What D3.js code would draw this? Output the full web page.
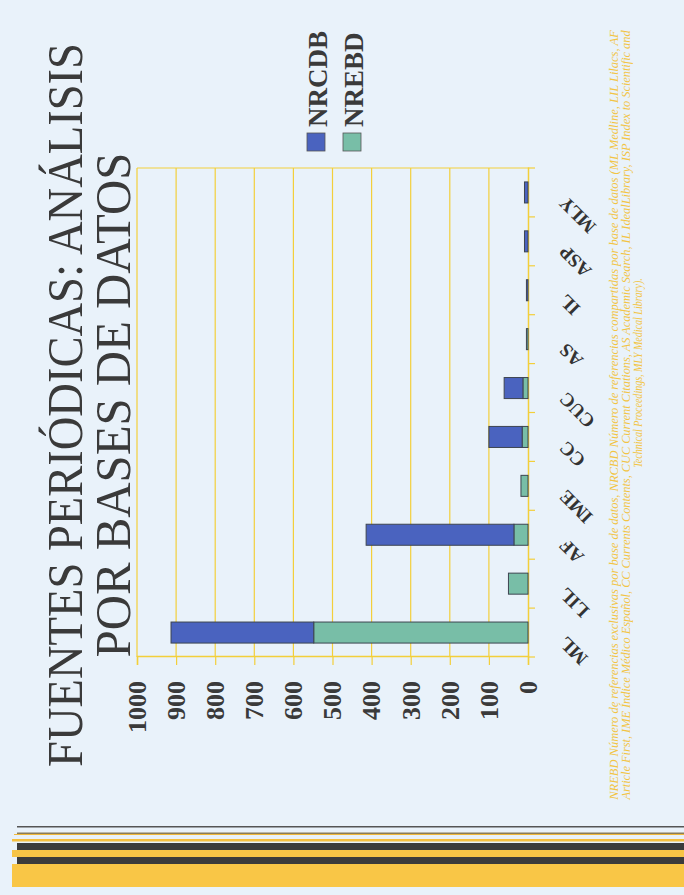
<!DOCTYPE html>
<html><head><meta charset="utf-8">
<script src="https://cdn.jsdelivr.net/npm/d3@7"></script>
<style>html,body{margin:0;padding:0;background:#e9f2fa;}svg{display:block;}</style>
</head><body>
<script>
const categories = ["ML","LIL","AF","IME","CC","CUC","AS","IL","ASP","MLY"];
const NREBD = [548, 50, 36, 18, 15, 13, 4, 0, 0, 0];
const NRCDB = [365, 0, 378, 0, 85, 48, 0, 4, 9, 9];
const seriesNames = ["NRCDB","NREBD"];
const valueTicks = [0,100,200,300,400,500,600,700,800,900,1000];
const titleLines = ["FUENTES PERIÓDICAS: ANÁLISIS","POR BASES DE DATOS"];
const noteLines = [
 "NREBD Número de referencias exclusivas por base de datos, NRCBD Número de referencias compartidas por base de datos (ML Medline, LIL Lilacs, AF",
 "Article First, IME Índice Médico Español, CC Currents Contents, CUC Current Citations, AS Academic Search, IL IdealLibrary, ISP Index to Scientific and",
 "Technical Proceedings, MLY Medical Library)."
];

const W = 684, H = 895;
const colors = {NRCDB:"#4a63bf", NREBD:"#78bea7"};
const serif = "'Liberation Serif','Times New Roman',serif";
const svg = d3.select("body").append("svg").attr("width",W).attr("height",H);
svg.append("rect").attr("width",W).attr("height",H).attr("fill","#e9f2fa");

// slide drawn in its own (unrotated) frame, then turned -90deg
const g = svg.append("g").attr("transform",`translate(0,${H}) rotate(-90)`);
const L = 238, R = 727, T = 137, B = 528;
const x = d3.scaleBand().domain(categories).range([L,R]).paddingInner(0.57).paddingOuter(0.285);
const y = d3.scaleLinear().domain([0,1000]).range([B,T]);
const grid = "#f3cf3a";

// helper: fit a text to a target length by scaling (no textLength)
function fitText(sel, cx, base, target, sy){
  const w = sel.node().getComputedTextLength();
  const sx = target / w;
  sel.attr("x",0).attr("y",0).attr("text-anchor","middle")
     .attr("transform",`translate(${cx},${base}) scale(${sx},${sy})`);
}

// title
titleLines.forEach((t,i)=>{
  const el = g.append("text").attr("class","title")
    .attr("font-family",serif).attr("font-size",46).attr("fill","#3a3a3a").text(t);
  fitText(el, 490, [82,130][i], [724,505][i], 1.08);
});

// gridlines (horizontal in slide frame)
g.selectAll("line.grid").data(valueTicks.filter(v=>v>0)).join("line")
  .attr("x1",L).attr("x2",R).attr("y1",d=>y(d)).attr("y2",d=>y(d))
  .attr("stroke",grid).attr("stroke-width",1.2);
g.append("line").attr("x1",R).attr("x2",R).attr("y1",T).attr("y2",B).attr("stroke",grid).attr("stroke-width",1.2);

// value axis
const ya = g.append("g").attr("transform",`translate(${L},0)`)
  .call(d3.axisLeft(y).tickValues(valueTicks).tickSize(8).tickPadding(16).tickFormat(d3.format("d")));
ya.select(".domain").attr("stroke",grid).attr("stroke-width",1.5);
ya.selectAll(".tick line").attr("stroke",grid).attr("stroke-width",1.2);
ya.selectAll(".tick text").attr("font-family",serif)
  .attr("font-size",26).attr("font-weight","bold").attr("fill","#3a3a3a");

// category axis
const xa = g.append("g").attr("transform",`translate(0,${B})`)
  .call(d3.axisBottom(x).tickSize(0).tickFormat(""));
xa.select(".domain").attr("stroke",grid).attr("stroke-width",1.5);
const bounds = categories.map(c=>x(c)-x.step()*x.paddingInner()/2).concat([R]);
g.selectAll("line.ctick").data(bounds).join("line")
  .attr("x1",d=>d).attr("x2",d=>d).attr("y1",B).attr("y2",B+7)
  .attr("stroke",grid).attr("stroke-width",1.2);
g.selectAll("text.cat").data(categories).join("text")
  .attr("transform",d=>`translate(${x(d)+x.bandwidth()/2-3},567) rotate(-45)`)
  .attr("text-anchor","end")
  .attr("font-family",serif)
  .attr("font-size",19).attr("font-weight","bold").attr("fill","#333")
  .text(d=>d);

// stacked bars
const rows = categories.map((c,i)=>({cat:c, NREBD:NREBD[i], NRCDB:NRCDB[i]}));
const stack = d3.stack().keys(["NREBD","NRCDB"])(rows);
g.selectAll("g.series").data(stack).join("g")
  .attr("fill",d=>colors[d.key])
  .selectAll("rect").data(d=>d.filter(p=>p[1]-p[0]>0)).join("rect")
  .attr("x",d=>x(d.data.cat)).attr("width",x.bandwidth())
  .attr("y",d=>y(d[1])).attr("height",d=>y(d[0])-y(d[1]))
  .attr("stroke","#3d4550").attr("stroke-width",1);

// legend
const lg = g.append("g");
seriesNames.forEach((s,i)=>{
  const v = [307,343][i];
  lg.append("rect").attr("x",744).attr("y",v).attr("width",18).attr("height",18)
    .attr("fill",colors[s]).attr("stroke","#555").attr("stroke-width",0.8);
  lg.append("text").attr("x",768).attr("y",v+20)
    .attr("font-family",serif)
    .attr("font-size",27).attr("font-weight","bold").attr("fill","#3a3a3a").text(s);
});

// footnote
noteLines.forEach((t,i)=>{
  const el = g.append("text").attr("class","note")
    .attr("font-family",serif).attr("font-size",12).attr("font-style","italic")
    .attr("fill","#f2c443").text(t);
  fitText(el, [480,480,522][i], 618+i*12, [770,770,190][i], 1);
});

// decorative stripes at page bottom (picture frame)
const stripes = [
  {x:17,y:826,h:1.5,c:"#555"},
  {x:17,y:832.5,h:1.5,c:"#8a7d5a"},
  {x:14,y:834,h:1,c:"#f0b93c"},
  {x:12,y:839,h:2.5,c:"#f5c040"},
  {x:17,y:843,h:7,c:"#3b3b3b"},
  {x:12,y:850,h:7,c:"#f7c446"},
  {x:17,y:857,h:7,c:"#3b3b3b"},
  {x:12,y:864,h:23,c:"#f9c646"}
];
svg.selectAll("rect.stripe").data(stripes).join("rect")
  .attr("x",d=>d.x).attr("y",d=>d.y).attr("width",d=>W-d.x).attr("height",d=>d.h).attr("fill",d=>d.c);
</script>
</body></html>
